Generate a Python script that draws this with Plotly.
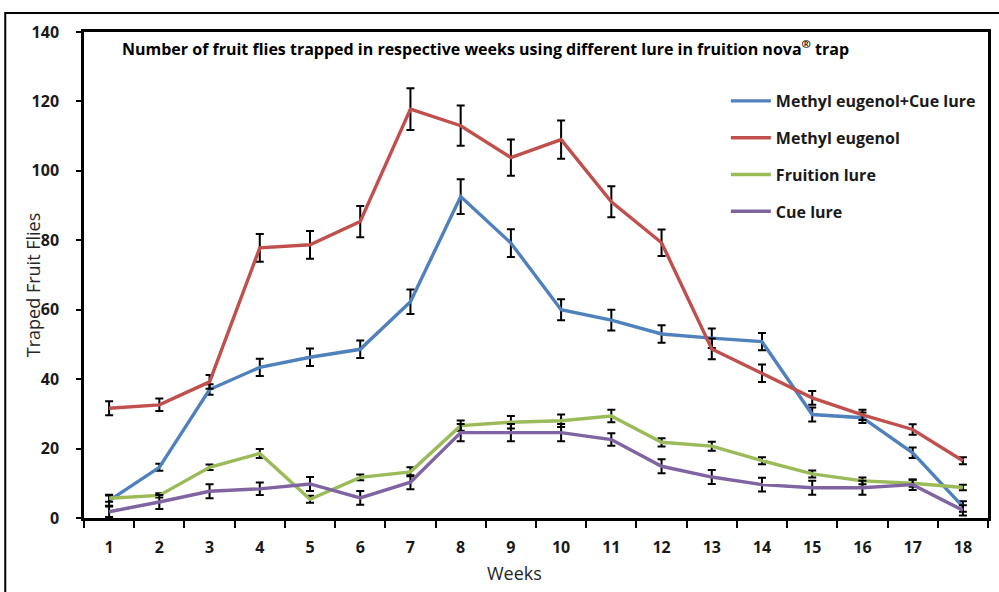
import plotly.graph_objects as go

weeks = list(range(1, 19))
week_labels = [str(w) for w in weeks]

me_cue = [5, 14.6, 37, 43.4, 46.3, 48.6, 62.3, 92.6, 79.2, 60, 57, 53, 51.8, 50.8, 29.8, 28.9, 18.8, 3.3]
me_cue_err = [1.5, 1, 1.5, 2.5, 2.5, 2.5, 3.5, 5, 4, 3, 3, 2.5, 2.8, 2.5, 2, 1.5, 1.5, 1.5]

me = [31.6, 32.6, 39.2, 77.8, 78.7, 85.4, 117.8, 113, 103.8, 109, 91.1, 79.3, 48.7, 41.7, 34.6, 29.7, 25.5, 16.5]
me_err = [2, 1.8, 2, 4, 4, 4.5, 6, 5.8, 5.2, 5.5, 4.5, 3.8, 3, 2.5, 2, 1.5, 1.5, 1]

fruition = [5.7, 6.5, 14.6, 18.6, 5.4, 11.7, 13.3, 26.6, 27.6, 28, 29.4, 21.8, 20.7, 16.5, 12.7, 10.7, 10, 8.8]
fruition_err = [1, 0.6, 0.8, 1.3, 1, 0.8, 1.3, 1.5, 1.8, 1.8, 1.8, 1.2, 1.3, 1, 1, 1, 1, 0.8]

cue = [1.8, 4.6, 7.7, 8.4, 9.8, 5.8, 10.3, 24.6, 24.6, 24.6, 22.6, 14.9, 11.8, 9.6, 8.7, 8.7, 9.6, 2.2]
cue_err = [1.5, 2, 2, 1.8, 2, 2, 2, 2.5, 2.5, 2.5, 1.8, 2, 2, 2, 2, 2, 1.5, 1.5]

series = [
    ("Methyl eugenol+Cue lure", me_cue, me_cue_err, "#4F81BD"),
    ("Methyl eugenol", me, me_err, "#C0504D"),
    ("Fruition lure", fruition, fruition_err, "#9BBB59"),
    ("Cue lure", cue, cue_err, "#8064A2"),
]

W, H = 999, 592
L, R, T, B = 84, 8, 32, 74
pw, ph = W - L - R, H - T - B

def px_x(p):
    return (p - L) / pw

def px_y(p):
    return (H - B - p) / ph

fig = go.Figure()
for i, (name, vals, err, col) in enumerate(series):
    fig.add_trace(go.Scatter(
        x=weeks, y=vals, name=name, mode="lines",
        line=dict(color=col, width=3.4),
        legendgroup="g%d" % i,
        error_y=dict(type="data", array=err, visible=True,
                     color="black", thickness=2, width=4),
    ))

font_fam = "Open Sans, Lato, sans-serif"

fig.update_layout(
    width=W, height=H,
    margin=dict(l=L, r=R, t=T, b=B),
    paper_bgcolor="white", plot_bgcolor="white",
    showlegend=True,
    legend=dict(
        x=px_x(728), y=px_y(84), xanchor="left", yanchor="top",
        font=dict(family=font_fam, size=16, color="#1a1a1a", weight="bold"),
        traceorder="grouped", tracegroupgap=13,
        itemwidth=40, bgcolor="rgba(0,0,0,0)",
    ),
    xaxis=dict(
        range=[0.5, 18.5], tickmode="array", tickvals=weeks, ticktext=week_labels,
        ticks="", showline=True, linecolor="black", linewidth=2.5, mirror=True,
        showgrid=False, zeroline=False,
        tickfont=dict(family=font_fam, size=16, color="#1a1a1a", weight="bold"),
        ticklabelstandoff=13,
        minor=dict(tickmode="array", tickvals=[w + 0.5 for w in range(0, 19)],
                   ticks="outside", ticklen=7, tickwidth=2, tickcolor="black", showgrid=False),
    ),
    yaxis=dict(
        range=[0, 140], tickmode="array", tickvals=list(range(0, 141, 20)),
        ticks="outside", ticklen=5, tickwidth=2, tickcolor="black",
        showline=True, linecolor="black", linewidth=2.5, mirror=True,
        showgrid=False, zeroline=False,
        tickfont=dict(family=font_fam, size=16, color="#1a1a1a", weight="bold"),
        ticklabelstandoff=14,
    ),
    annotations=[
        dict(text="Number of fruit flies trapped in respective weeks using different lure in fruition nova<sup>®</sup> trap",
             x=px_x(120), y=px_y(48), xref="paper", yref="paper", xanchor="left", yanchor="middle",
             showarrow=False, font=dict(family=font_fam, size=16, color="black", weight="bold")),
        dict(text="Weeks", x=px_x(516), y=px_y(573), xref="paper", yref="paper",
             xanchor="center", yanchor="middle", showarrow=False,
             font=dict(family=font_fam, size=18, color="#262626")),
        dict(text="Traped Fruit Flies", x=px_x(33), y=px_y(285), xref="paper", yref="paper",
             xanchor="center", yanchor="middle", textangle=-90, showarrow=False,
             font=dict(family=font_fam, size=18, color="#262626")),
    ],
    shapes=[
        dict(type="rect", xref="paper", yref="paper",
             x0=px_x(5), x1=px_x(1010), y0=px_y(610), y1=px_y(13),
             line=dict(color="black", width=2), fillcolor="rgba(0,0,0,0)", layer="below"),
    ],
)

fig.write_html("out.html", config={"displayModeBar": False},
               post_script="document.body.style.margin='0';")
